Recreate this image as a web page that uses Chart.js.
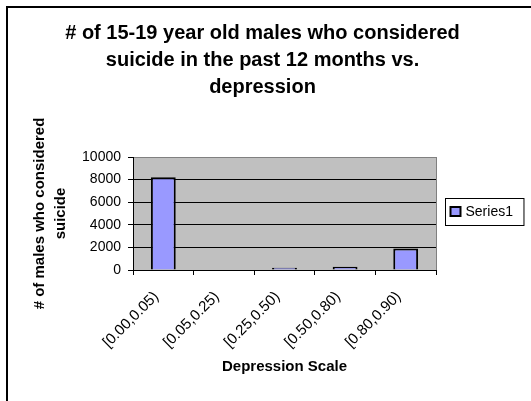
<!DOCTYPE html>
<html><head><meta charset="utf-8">
<script src="https://cdn.jsdelivr.net/npm/chart.js@4"></script>
<style>html,body{margin:0;padding:0;background:#fff}canvas{display:block}</style>
</head><body>
<canvas id="c" width="531" height="401"></canvas>
<script>
const categories = ['[0.00,0.05)', '[0.05,0.25)', '[0.25,0.50)', '[0.50,0.80)', '[0.80,0.90)'];
const series1 = [8200, 0, 200, 280, 1900];
const seriesName = 'Series1';
const titleLines = ['# of 15-19 year old males who considered', 'suicide in the past 12 months vs.', 'depression'];
const yTitleLines = ['# of males who considered', 'suicide'];
const xTitle = 'Depression Scale';
const yMin = 0, yMax = 10000, yStep = 2000;

const FONT = '"Liberation Sans", Arial, sans-serif';
Chart.defaults.font.family = FONT;
Chart.defaults.color = '#000';

const frame = {
  id: 'frame',
  beforeDraw(chart) {
    const ctx = chart.ctx, ca = chart.chartArea;
    ctx.save();
    ctx.fillStyle = '#fff';
    ctx.fillRect(0, 0, chart.width, chart.height);
    ctx.strokeStyle = '#000';
    ctx.lineWidth = 2;
    ctx.strokeRect(7, 7, chart.width + 20, chart.height + 20);
    ctx.fillStyle = '#C0C0C0';
    ctx.fillRect(ca.left, ca.top, ca.right - ca.left, ca.bottom - ca.top);
    ctx.strokeStyle = '#808080';
    ctx.lineWidth = 1;
    ctx.strokeRect(ca.left + 0.5, ca.top + 0.5, ca.right - ca.left, ca.bottom - ca.top);
    ctx.restore();
  },
  afterDraw(chart) {
    const ctx = chart.ctx, ca = chart.chartArea;
    const ds = chart.data.datasets[0];
    ctx.save();
    ctx.font = '14px ' + FONT;
    const tw = ctx.measureText(ds.label).width;
    const bw = 5 + 10 + 5 + tw + 11, bh = 27;
    const bx = ca.right + 9.5, by = Math.round((ca.top + ca.bottom) / 2 - bh / 2 - 2) + 0.5;
    ctx.fillStyle = '#fff';
    ctx.fillRect(bx, by, bw, bh);
    ctx.strokeStyle = '#000';
    ctx.lineWidth = 1;
    ctx.strokeRect(bx, by, bw, bh);
    ctx.fillStyle = ds.backgroundColor;
    ctx.fillRect(bx + 5, by + 8.5, 10, 9);
    ctx.lineWidth = 2;
    ctx.strokeRect(bx + 5, by + 8.5, 10, 9);
    ctx.fillStyle = '#000';
    ctx.textBaseline = 'middle';
    ctx.textAlign = 'left';
    ctx.fillText(ds.label, bx + 20, by + bh / 2 + 0.5);
    ctx.restore();
  }
};

new Chart(document.getElementById('c'), {
  type: 'bar',
  data: {
    labels: categories,
    datasets: [{
      label: seriesName,
      data: series1,
      backgroundColor: '#9999FF',
      borderColor: '#000',
      borderWidth: 2,
      barPercentage: 0.41,
      categoryPercentage: 1,
      yAxisID: 'y'
    }]
  },
  options: {
    responsive: false,
    animation: false,
    devicePixelRatio: 1,
    layout: { padding: { left: 0, right: 6, top: 0, bottom: 0 } },
    plugins: {
      legend: { display: false },
      tooltip: { enabled: false },
      title: {
        display: true,
        text: titleLines,
        color: '#000',
        font: { size: 20, weight: 'bold', lineHeight: 1.35 },
        padding: { top: 19.5, bottom: 56.5 }
      }
    },
    scales: {
      x: {
        ticks: { color: '#000', font: { size: 15 }, minRotation: 45, maxRotation: 45, padding: 13, labelOffset: -7 },
        grid: { drawOnChartArea: false, tickLength: 5, color: '#000', offset: true },
        border: { color: '#000', width: 1 },
        title: { display: true, text: xTitle, color: '#000', font: { size: 15, weight: 'bold', lineHeight: 1.2 }, padding: { top: 0, bottom: 25 } },
        afterFit: s => { s.height = 131; }
      },
      y: {
        min: yMin, max: yMax,
        ticks: { stepSize: yStep, color: '#000', font: { size: 14 }, padding: 7, callback: v => String(v) },
        grid: { color: c => (c.tick && c.tick.value === yMax) ? '#808080' : '#000', tickColor: '#000', tickLength: 5, lineWidth: 1 },
        border: { color: '#000', width: 1 },
        title: { display: true, text: yTitleLines, color: '#000', font: { size: 15, weight: 'bold', lineHeight: 1.4 }, padding: { top: 29.5, bottom: 0 } },
        afterFit: s => { s.width = 133; }
      },
      yR: {
        position: 'right',
        grid: { display: false },
        ticks: { display: false },
        border: { display: false },
        afterFit: s => { s.width = 89; }
      }
    }
  },
  plugins: [frame]
});
</script>
</body></html>
